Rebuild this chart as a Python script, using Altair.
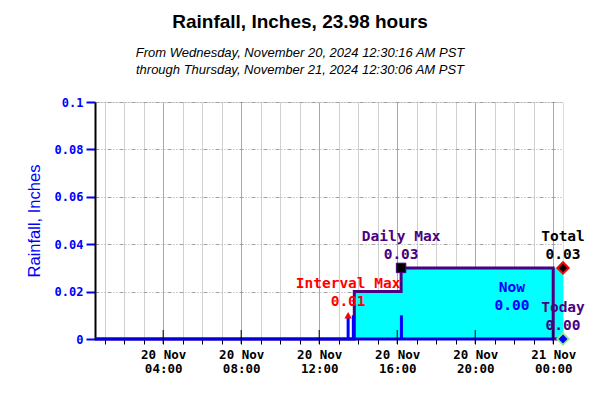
import altair as alt
import pandas as pd

# ---------------- data ----------------
domain_start = "2024-11-20T00:30:16Z"
domain_end = "2024-11-21T00:30:06Z"

# interval rainfall (inches per interval)
rate_times = ["2024-11-20T13:29:00Z", "2024-11-20T13:45:00Z", "2024-11-20T16:13:00Z"]
rate_values = [0.01, 0.01, 0.01]

# blue zero baseline of the interval series
base_times = ["2024-11-20T00:30:16Z"]
base_end_times = ["2024-11-21T00:00:00Z"]

# daily accumulated rain (purple step line, resets at midnight)
cum_times = ["2024-11-20T00:30:16Z", "2024-11-20T13:48:00Z", "2024-11-20T16:12:00Z",
             "2024-11-21T00:00:00Z", "2024-11-21T00:30:06Z"]
cum_values = [0.0, 0.02, 0.03, 0.0, 0.0]

# period total (cyan filled area)
area_times = ["2024-11-20T13:48:00Z", "2024-11-20T16:12:00Z", "2024-11-21T00:30:06Z"]
area_values = [0.02, 0.03, 0.03]

# annotations
ann_names = ["Interval Max", "Daily Max", "Total", "Today"]
ann_times = ["2024-11-20T13:29:00Z", "2024-11-20T16:12:00Z", "2024-11-21T00:30:06Z", "2024-11-21T00:30:06Z"]
ann_values = [0.01, 0.03, 0.03, 0.0]
ann_labels = ["0.01", "0.03", "0.03", "0.00"]
ann_colors = ["#ff0000", "#4b0082", "#000000", "#4b0082"]

now_time = ["2024-11-20T21:53:00Z"]
now_value = [0.03]
now_label = ["0.00"]

major_tick_times = ["2024-11-20T04:00:00Z", "2024-11-20T08:00:00Z", "2024-11-20T12:00:00Z",
                    "2024-11-20T16:00:00Z", "2024-11-20T20:00:00Z", "2024-11-21T00:00:00Z"]

y_ticks = [0, 0.02, 0.04, 0.06, 0.08, 0.1]

# ---------------- frames ----------------
rate_df = pd.DataFrame({"t": rate_times, "v": rate_values})
base_df = pd.DataFrame({"t": base_times, "t2": base_end_times, "v": [0.0]})
cum_df = pd.DataFrame({"t": cum_times, "v": cum_values})
area_df = pd.DataFrame({"t": area_times, "v": area_values})
ann_df = pd.DataFrame({"t": ann_times, "v": ann_values, "name": ann_names,
                       "label": ann_labels, "color": ann_colors})
now_df = pd.DataFrame({"t": now_time, "v": now_value, "label": now_label})
major_df = pd.DataFrame({"t": major_tick_times})

W, H = 468, 237

hour_ticks = [alt.DateTime(year=2024, month=11, date=20 + (h // 24), hours=h % 24, utc=True)
              for h in range(1, 25)]

x_axis = alt.Axis(
    values=hour_ticks,
    labelExpr="utchours(datum.value) % 4 === 0 ? [utcFormat(datum.value, '%d %b'), utcFormat(datum.value, '%H:%M')] : ''",
    labelFont="DejaVu Sans Mono", labelFontSize=12.5, labelFontWeight="bold", labelColor="#000000",
    labelLineHeight=14, labelPadding=4, labelAngle=0,
    tickColor="#000000", tickSize=5, tickWidth=1,
    domainColor="#000000", domainWidth=1,
    grid=True, gridWidth=1,
    gridColor={"condition": {"test": "utchours(datum.value) % 4 === 0", "value": "#a8a8a8"}, "value": "#d0d0d0"},
    title=None, labelOverlap=False, labelFlush=False,
)

y_axis = alt.Axis(
    values=y_ticks,
    labelExpr="format(datum.value, '~g')",
    labelFont="DejaVu Sans Mono", labelFontSize=12, labelFontWeight="bold", labelColor="#0000ff",
    labelPadding=3,
    tickColor="#0000ff", tickSize=9, tickWidth=2,
    domainColor="#000000", domainWidth=2,
    grid=True, gridColor="#a0a0a0", gridDash=[4, 2, 1, 2, 1, 2], gridWidth=1,
    title="Rainfall, Inches", titleFont="Liberation Sans", titleFontSize=16.5,
    titleFontWeight="normal", titleColor="#0000ff", titlePadding=12,
)

x_scale = alt.Scale(type="utc", domain=[
    alt.DateTime(year=2024, month=11, date=20, hours=0, minutes=30, seconds=16, utc=True),
    alt.DateTime(year=2024, month=11, date=21, hours=0, minutes=30, seconds=6, utc=True)])
y_scale = alt.Scale(domain=[0, 0.1], nice=False)

X = alt.X("t:T", scale=x_scale, axis=x_axis)
Y = alt.Y("v:Q", scale=y_scale, axis=y_axis)

area = alt.Chart(area_df).mark_area(interpolate="step-after", color="#00ffff", opacity=1).encode(x=X, y=Y)

cum_line = alt.Chart(cum_df).mark_line(interpolate="step-after", color="#4b0082", strokeWidth=3).encode(x=X, y=Y)

base_line = alt.Chart(base_df).mark_rule(color="#0000dd", strokeWidth=3).encode(x=X, x2="t2:T", y=Y)

bars = alt.Chart(rate_df).mark_rule(color="#0000ff", strokeWidth=3).encode(
    x=X, y=Y, y2=alt.datum(0))

major_ticks = alt.Chart(major_df).mark_rule(color="#000000", strokeWidth=1).encode(
    x=X, y=alt.value(H - 9), y2=alt.value(H + 5))

int_max = alt.Chart(ann_df[ann_df["name"] == "Interval Max"]).mark_point(
    shape="triangle-up", filled=True, color="#ff0000", size=55, opacity=1).encode(x=X, y=Y)

daily_max = alt.Chart(ann_df[ann_df["name"] == "Daily Max"]).mark_square(
    color="#000000", size=90, opacity=1, stroke="#4b0082", strokeWidth=1).encode(x=X, y=Y)

total_outer = alt.Chart(ann_df[ann_df["name"] == "Total"]).mark_point(
    shape="diamond", filled=True, color="#ff0000", size=200, opacity=1).encode(x=X, y=Y)
total_inner = alt.Chart(ann_df[ann_df["name"] == "Total"]).mark_point(
    shape="diamond", filled=True, color="#000000", size=70, opacity=1).encode(x=X, y=Y)

today_outer = alt.Chart(ann_df[ann_df["name"] == "Today"]).mark_point(
    shape="diamond", filled=True, color="#90ee90", size=200, opacity=1).encode(x=X, y=Y)
today_inner = alt.Chart(ann_df[ann_df["name"] == "Today"]).mark_point(
    shape="diamond", filled=True, color="#0000ff", size=80, opacity=1).encode(x=X, y=Y)

txt_props = dict(font="DejaVu Sans Mono", fontWeight="bold", fontSize=14.5, align="center", baseline="middle")

ann_name_text = alt.Chart(ann_df).mark_text(dy=-31, **txt_props).encode(
    x=X, y=Y, text="name:N", color=alt.Color("color:N", scale=None))
ann_value_text = alt.Chart(ann_df).mark_text(dy=-13, **txt_props).encode(
    x=X, y=Y, text="label:N", color=alt.Color("color:N", scale=None))

now_name = alt.Chart(now_df).mark_text(dy=20, color="#0000ff", **txt_props).encode(
    x=X, y=Y, text=alt.value("Now"))
now_val = alt.Chart(now_df).mark_text(dy=38, color="#0000ff", **txt_props).encode(
    x=X, y=Y, text="label:N")

chart = alt.layer(
    area, cum_line, base_line, bars, major_ticks,
    int_max, daily_max, total_outer, total_inner, today_outer, today_inner,
    ann_name_text, ann_value_text, now_name, now_val,
).properties(
    width=W, height=H,
    autosize=alt.AutoSizeParams(type="none"),
    padding={"left": 87, "top": 94, "right": 29, "bottom": 50},
    title=alt.TitleParams(
        text="Rainfall, Inches, 23.98 hours",
        subtitle=["From Wednesday, November 20, 2024 12:30:16 AM PST",
                  "through Thursday, November 21, 2024 12:30:06 AM PST"],
        font="Liberation Sans", fontSize=19, fontWeight="bold", color="#000000",
        subtitleFont="Liberation Sans", subtitleFontSize=13, subtitleFontStyle="italic",
        subtitleColor="#000000", subtitleLineHeight=17, subtitlePadding=15,
        anchor="middle", frame="group", dx=-29, offset=19,
    ),
).configure_view(stroke=None).configure(background="#ffffff")

chart.save("out.html", embed_options={"renderer": "svg", "actions": False})
